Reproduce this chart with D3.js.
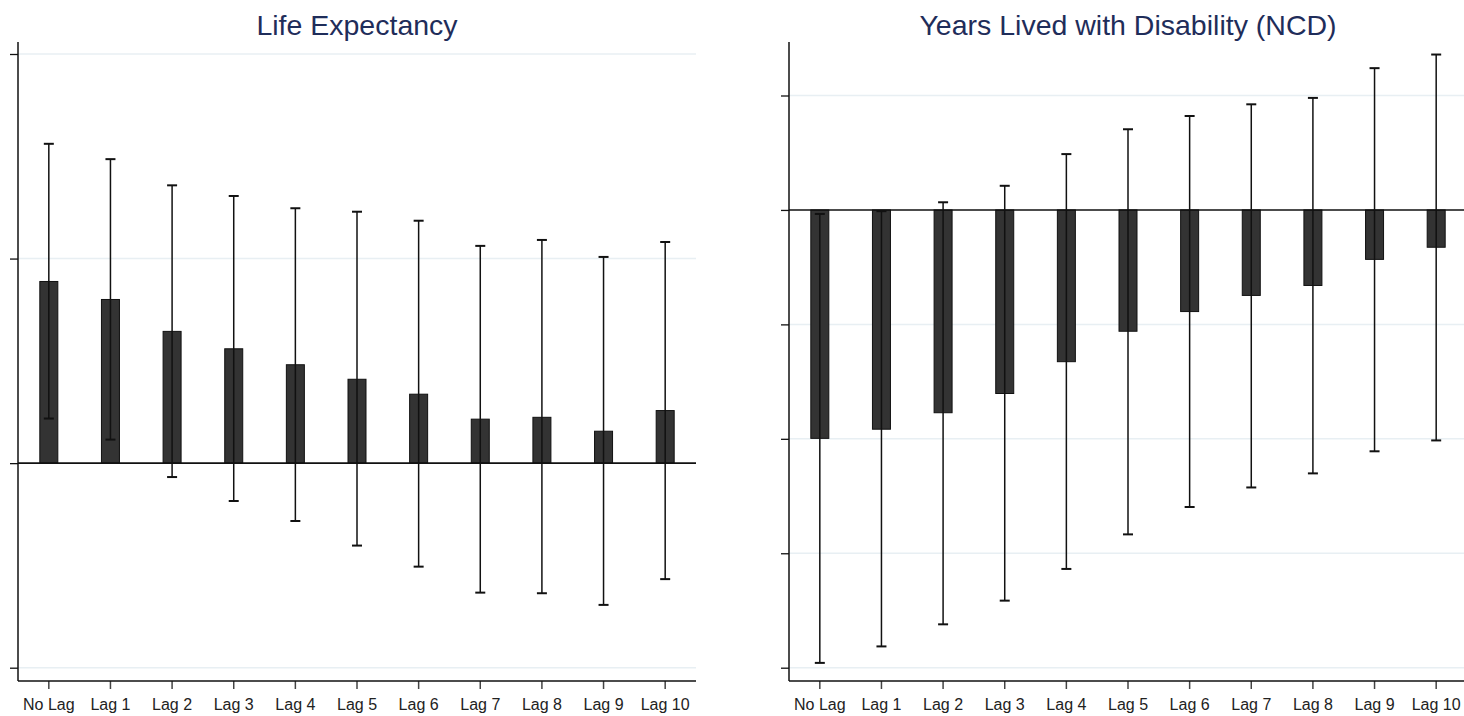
<!DOCTYPE html>
<html>
<head>
<meta charset="utf-8">
<script src="https://cdn.jsdelivr.net/npm/d3@7"></script>
<style>
  body { margin: 0; background: #fff; }
  svg { display: block; font-family: "Liberation Sans", Arial, sans-serif; }
  .tick text { font-size: 16px; fill: #222; }
</style>
</head>
<body>
<div id="visualisation"></div>
<script>
var lags = ["No Lag", "Lag 1", "Lag 2", "Lag 3", "Lag 4", "Lag 5", "Lag 6", "Lag 7", "Lag 8", "Lag 9", "Lag 10"];

// Life expectancy: estimate with lower / upper bound
var leEstimate = [0.888, 0.800, 0.644, 0.559, 0.481, 0.410, 0.337, 0.215, 0.224, 0.156, 0.257];
var leLower = [0.218, 0.115, -0.068, -0.185, -0.283, -0.403, -0.506, -0.633, -0.636, -0.693, -0.567];
var leUpper = [1.561, 1.486, 1.358, 1.306, 1.246, 1.229, 1.185, 1.062, 1.091, 1.008, 1.081];
var leTicks = [-1, 0, 1, 2];

// Years lived with disability (NCD)
var yldEstimate = [-1.996, -1.916, -1.772, -1.604, -1.326, -1.060, -0.888, -0.747, -0.660, -0.432, -0.326];
var yldLower = [-3.958, -3.814, -3.621, -3.414, -3.137, -2.835, -2.596, -2.425, -2.302, -2.109, -2.014];
var yldUpper = [-0.035, -0.011, 0.067, 0.211, 0.488, 0.705, 0.821, 0.923, 0.979, 1.239, 1.358];
var yldTicks = [-4, -3, -2, -1, 0, 1];

var W = 1464, H = 716;

var svg = d3.select("#visualisation")
      .append("svg")
      .attr("width", W)
      .attr("height", H);

function panel(opts) {
      var x0 = opts.left, x1 = opts.left + 678, top = 42, bottom = 681;

      var x = d3.scaleBand()
            .domain(lags)
            .range([x0, x1]);

      var y = d3.scaleLinear()
            .domain(opts.domain)
            .range(opts.range);

      var g = svg.append("g");

      // gridlines
      g.selectAll(".grid")
            .data(opts.ticks.filter(function (t) { return t !== 0; }))
            .enter().append("line")
            .attr("x1", x0).attr("x2", x1)
            .attr("y1", function (d) { return y(d); })
            .attr("y2", function (d) { return y(d); })
            .attr("stroke", "#e8eff3")
            .attr("stroke-width", 1.5);

      var data = lags.map(function (l, i) {
            return { lag: l, est: opts.est[i], lo: opts.lo[i], hi: opts.hi[i] };
      });

      var bw = 18;
      // bars
      g.selectAll(".bar")
            .data(data)
            .enter().append("rect")
            .attr("x", function (d) { return x(d.lag) + x.bandwidth() / 2 - bw / 2; })
            .attr("width", bw)
            .attr("y", function (d) { return Math.min(y(d.est), y(0)); })
            .attr("height", function (d) { return Math.abs(y(d.est) - y(0)); })
            .attr("fill", "#333333")
            .attr("stroke", "#111")
            .attr("stroke-width", 1);

      // zero line
      g.append("line")
            .attr("x1", x0).attr("x2", x1)
            .attr("y1", y(0)).attr("y2", y(0))
            .attr("stroke", "#111")
            .attr("stroke-width", 1.6);

      // error bars
      var eb = g.selectAll(".err")
            .data(data)
            .enter().append("g")
            .attr("stroke", "#111")
            .attr("stroke-width", 1.5);
      eb.append("line")
            .attr("x1", function (d) { return x(d.lag) + x.bandwidth() / 2; })
            .attr("x2", function (d) { return x(d.lag) + x.bandwidth() / 2; })
            .attr("y1", function (d) { return y(d.lo); })
            .attr("y2", function (d) { return y(d.hi); });
      ["lo", "hi"].forEach(function (k) {
            eb.append("line")
                  .attr("x1", function (d) { return x(d.lag) + x.bandwidth() / 2 - 5; })
                  .attr("x2", function (d) { return x(d.lag) + x.bandwidth() / 2 + 5; })
                  .attr("y1", function (d) { return y(d[k]); })
                  .attr("y2", function (d) { return y(d[k]); })
                  .attr("stroke-width", 2);
      });

      // y axis (no labels)
      var ya = g.append("g")
            .attr("transform", "translate(" + x0 + ",0)")
            .call(d3.axisLeft(y).tickValues(opts.ticks).tickSize(8).tickFormat(""));
      ya.select(".domain").remove();
      ya.selectAll(".tick line").attr("stroke", "#111").attr("stroke-width", 1.3);
      g.append("line")
            .attr("x1", x0).attr("x2", x0)
            .attr("y1", top).attr("y2", bottom)
            .attr("stroke", "#111")
            .attr("stroke-width", 1.5);

      // x axis
      var xa = g.append("g")
            .attr("transform", "translate(0," + bottom + ")")
            .call(d3.axisBottom(x).tickSize(8).tickPadding(10));
      xa.select(".domain").remove();
      xa.selectAll(".tick line").attr("stroke", "#444").attr("stroke-width", 1.5);
      g.append("line")
            .attr("x1", x0).attr("x2", x1)
            .attr("y1", bottom).attr("y2", bottom)
            .attr("stroke", "#111")
            .attr("stroke-width", 1.5);

      // title
      g.append("text")
            .attr("x", (x0 + x1) / 2)
            .attr("y", 35)
            .attr("text-anchor", "middle")
            .style("font-size", "28.5px")
            .style("fill", "#1f2d5a")
            .text(opts.title);
}

panel({
      left: 18,
      title: "Life Expectancy",
      domain: [-1, 2], range: [667.7, 54],
      ticks: leTicks,
      est: leEstimate, lo: leLower, hi: leUpper
});

panel({
      left: 789,
      title: "Years Lived with Disability (NCD)",
      domain: [-4, 1], range: [667.7, 95.5],
      ticks: yldTicks,
      est: yldEstimate, lo: yldLower, hi: yldUpper
});
</script>
</body>
</html>
